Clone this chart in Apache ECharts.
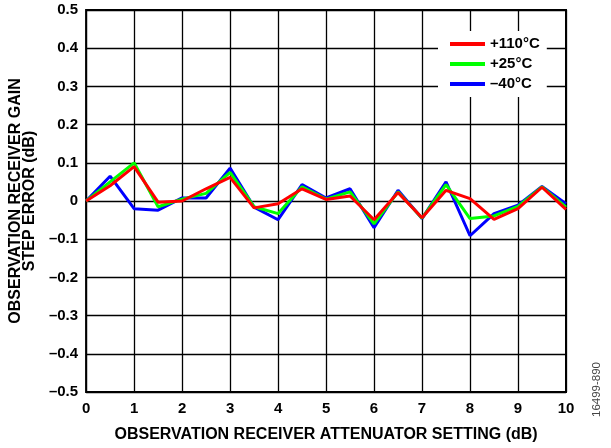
<!DOCTYPE html>
<html><head><meta charset="utf-8">
<script src="https://cdn.jsdelivr.net/npm/echarts@6/dist/echarts.min.js"></script>
<style>html,body{margin:0;padding:0;background:#fff}#c{width:611px;height:448px}</style>
</head><body><div id="c"></div>
<script>
const xs = [0,0.5,1,1.5,2,2.5,3,3.5,4,4.5,5,5.5,6,6.5,7,7.5,8,8.5,9,9.5,10];
const t110 = [0,0.040,0.090,-0.003,0.000,0.032,0.062,-0.018,-0.007,0.032,0.004,0.013,-0.049,0.022,-0.044,0.028,0.006,-0.048,-0.020,0.036,-0.022];
const t25  = [0,0.050,0.100,-0.015,0.005,0.020,0.075,-0.015,-0.033,0.037,0.005,0.024,-0.060,0.024,-0.045,0.043,-0.046,-0.039,-0.014,0.037,-0.016];
const tm40 = [0,0.065,-0.020,-0.024,0.008,0.008,0.086,-0.016,-0.049,0.043,0.008,0.032,-0.070,0.028,-0.046,0.050,-0.091,-0.033,-0.011,0.038,-0.007];
const names = ['+110°C','+25°C','–40°C'];
const colors = ['#ff0000','#00ff00','#0000ff'];
const F = 'Liberation Sans, Arial, sans-serif';
const chart = echarts.init(document.getElementById('c'));
const mk = (arr) => xs.map((x,i)=>[x,arr[i]]);
const fmtY = v => { const r = Math.round(v*10)/10; if (r===0) return '0'; return (r<0?'–':'') + Math.abs(r).toFixed(1); };
chart.setOption({
  animation:false,
  grid:{left:85,right:45,top:10,bottom:51,show:true,borderColor:'#000',borderWidth:2,backgroundColor:'transparent'},
  xAxis:{type:'value',min:0,max:10,interval:1,
    axisLine:{show:false},axisTick:{show:false},
    splitLine:{show:true,lineStyle:{color:'#000',width:1.3}},
    axisLabel:{color:'#000',fontFamily:F,fontWeight:'bold',fontSize:15,margin:9},
    name:'OBSERVATION RECEIVER ATTENUATOR SETTING (dB)',nameLocation:'middle',nameGap:35,
    nameTextStyle:{color:'#000',fontFamily:F,fontWeight:'bold',fontSize:16}},
  yAxis:{type:'value',min:-0.5,max:0.5,interval:0.1,
    axisLine:{show:false},axisTick:{show:false},
    splitLine:{show:true,lineStyle:{color:'#000',width:1.3}},
    axisLabel:{color:'#000',fontFamily:F,fontWeight:'bold',fontSize:15,margin:8,formatter:fmtY},
    name:'OBSERVATION RECEIVER GAIN\nSTEP ERROR (dB)',nameLocation:'middle',nameGap:42,nameRotate:90,
    nameTextStyle:{color:'#000',fontFamily:F,fontWeight:'bold',fontSize:16,lineHeight:14}},
  legend:{orient:'vertical',left:438,top:31,itemGap:4,itemWidth:35,itemHeight:4,icon:'rect',
    backgroundColor:'#fff',padding:[5,7,5,12],
    textStyle:{color:'#000',fontFamily:F,fontWeight:'bold',fontSize:15,lineHeight:16},
    data:names},
  graphic:[{type:'text',left:591,top:362,rotation:Math.PI/2,
    style:{text:'16499-890',fill:'#444',font:'11.5px '+F}}],
  series:[
    {name:names[2],type:'line',data:mk(tm40),symbol:'none',lineStyle:{color:colors[2],width:3},itemStyle:{color:colors[2]},z:2},
    {name:names[1],type:'line',data:mk(t25),symbol:'none',lineStyle:{color:colors[1],width:3},itemStyle:{color:colors[1]},z:3},
    {name:names[0],type:'line',data:mk(t110),symbol:'none',lineStyle:{color:colors[0],width:3},itemStyle:{color:colors[0]},z:4}
  ]
});
</script></body></html>
